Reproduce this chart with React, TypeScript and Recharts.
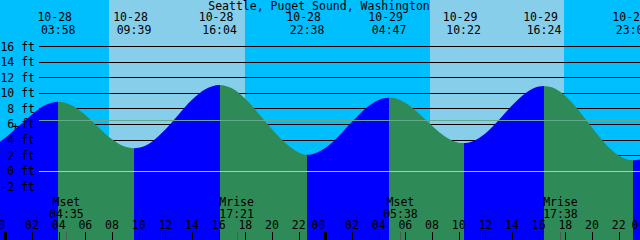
import { Area, ComposedChart, ReferenceArea, ReferenceLine, XAxis, YAxis } from "recharts";

const FONT = "'DejaVu Sans Mono', monospace";
const FS = 11.5;
const RISE = "#0000ff";
const FALL = "#2e8b57";
const NIGHT = "#00bfff";
const DAY = "#87ceeb";

// hours counted from 10-28 00:00, heights in ft
const tideHours = [
  -0.4, 0, 1, 2, 3, 5, 6, 7, 8, 9, 10, 11, 12, 13, 14, 15, 17, 18, 19, 20, 21, 22, 23, 24,
  25, 26, 27, 28, 29, 30, 31, 32, 33, 34, 35, 36, 37, 38, 39, 40, 41, 42, 43, 44, 45, 46, 47.6,
];
const tideFeet = [
  3.8, 4.3, 5.8, 7.3, 8.5, 8.46, 7.24, 5.62, 4.1, 3.12, 2.99, 3.79, 5.34, 7.29, 9.18, 10.55,
  10.66, 9.31, 7.4, 5.4, 3.6, 2.4, 2.17, 2.96, 4.48, 6.34, 8.04, 9.17, 9.44, 8.8, 7.46, 5.84,
  4.43, 3.66, 3.8, 4.85, 6.56, 8.45, 10.04, 10.9, 10.79, 9.69, 7.82, 5.61, 3.52, 2.01, 1.5,
];

const eventHours = [3.967, 9.65, 16.067, 22.633, 28.783, 34.367, 40.4, 47.083];
const eventFeet = [8.94, 2.93, 11.1, 2.1, 9.46, 3.6, 10.98, 1.4];
const eventKinds = ["high", "low", "high", "low", "high", "low", "high", "low"];
const eventDates = ["10-28", "10-28", "10-28", "10-28", "10-29", "10-29", "10-29", "10-29"];
const eventTimes = ["03:58", "09:39", "16:04", "22:38", "04:47", "10:22", "16:24", "23:05"];

const moonHours = [4.583, 17.35, 29.633, 41.633];
const moonNames = ["Mset", "Mrise", "Mset", "Mrise"];
const moonTimes = ["04:35", "17:21", "05:38", "17:38"];

const sunriseHours = [7.775, 31.85];
const sunsetHours = [17.975, 41.9];

const hourTicks = [0, 2, 4, 6, 8, 10, 12, 14, 16, 18, 20, 22, 24, 26, 28, 30, 32, 34, 36, 38, 40, 42, 44, 46, 48];
const footTicks = [-2, 0, 2, 4, 6, 8, 10, 12, 14, 16];
const gridFeet = [2, 4, 6, 8, 10, 12, 14, 16];
const datumFeet = 0;
const mslFeet = 6.55;

const xDomain = [-0.4, 47.6];
const yDomain = [-8.9, 22.06];
const gridStartHour = 2.52;

const points = [
  ...tideHours.map((t, i) => ({ t, ft: tideFeet[i] })),
  ...eventHours.map((t, i) => ({ t, ft: eventFeet[i] })),
].sort((a, b) => a.t - b.t);

const tMin = points[0].t;
const tMax = points[points.length - 1].t;
const frac = (t: number) => (t - tMin) / (tMax - tMin);

const stops: { o: number; c: string }[] = [];
let from = 0;
eventHours.forEach((t, i) => {
  const c = eventKinds[i] === "high" ? RISE : FALL;
  stops.push({ o: from, c }, { o: frac(t), c });
  from = frac(t);
});
const tailColor = eventKinds[eventKinds.length - 1] === "high" ? FALL : RISE;
stops.push({ o: from, c: tailColor }, { o: 1, c: tailColor });

const txt = { fontFamily: FONT, fontSize: FS, fill: "#000" };

function HourTick({ x, payload }: any) {
  const hh = ((payload.value % 24) + 24) % 24;
  const midnight = hh === 0;
  const px = Math.round(x) + 0.5;
  return (
    <g>
      <line x1={px} x2={px} y1={232} y2={240} stroke="#000" strokeWidth={midnight ? 3 : 1} />
      <text x={x} y={229} textAnchor={midnight ? "end" : "middle"} {...txt}>
        {String(hh).padStart(2, "0")}
      </text>
    </g>
  );
}

function EventTick({ x, payload }: any) {
  const i = eventHours.indexOf(payload.value);
  if (i < 0) return <g />;
  return (
    <g>
      <text x={x - 3.5} y={21} textAnchor="middle" {...txt}>
        {eventDates[i]}
      </text>
      <text x={x} y={33.5} textAnchor="middle" {...txt}>
        {eventTimes[i]}
      </text>
    </g>
  );
}

function MoonTick({ x, payload }: any) {
  const i = moonHours.indexOf(payload.value);
  if (i < 0) return <g />;
  const px = Math.round(x) + 0.5;
  return (
    <g>
      <line x1={px} x2={px} y1={232} y2={240} stroke="#505a50" strokeWidth={1} />
      <text x={x} y={206} textAnchor="middle" {...txt}>
        {moonNames[i]}
      </text>
      <text x={x} y={217.5} textAnchor="middle" {...txt}>
        {moonTimes[i]}
      </text>
    </g>
  );
}

function FootTick({ y, payload }: any) {
  return (
    <text x={35} y={y + 4} textAnchor="end" {...txt}>
      {`${payload.value} ft`}
    </text>
  );
}

export default function App() {
  return (
    <div style={{ position: "absolute", left: 0, top: 0, width: 640, height: 240, background: NIGHT }}>
      <ComposedChart width={640} height={240} data={points} margin={{ top: 0, right: 0, bottom: 0, left: 0 }}>
        <defs>
          <linearGradient id="tideFill" x1="0" y1="0" x2="1" y2="0">
            {stops.map((s, i) => (
              <stop key={i} offset={s.o} stopColor={s.c} />
            ))}
          </linearGradient>
        </defs>
        {sunriseHours.map((t, i) => (
          <ReferenceArea
            key={`day${i}`}
            xAxisId="x"
            yAxisId="y"
            x1={t}
            x2={sunsetHours[i]}
            fill={DAY}
            fillOpacity={1}
            stroke="none"
            zIndex={-300}
          />
        ))}
        {gridFeet.map((v) => (
          <ReferenceLine
            key={`g${v}`}
            xAxisId="x"
            yAxisId="y"
            segment={[
              { x: gridStartHour, y: v },
              { x: xDomain[1], y: v },
            ]}
            stroke="#000"
            strokeWidth={1}
            shapeRendering="crispEdges"
            zIndex={-200}
          />
        ))}
        <Area
          xAxisId="x"
          yAxisId="y"
          type="monotone"
          dataKey="ft"
          baseValue="dataMin"
          fill="url(#tideFill)"
          fillOpacity={1}
          stroke="none"
          dot={false}
          activeDot={false}
          isAnimationActive={false}
          zIndex={100}
        />
        <ReferenceLine
          xAxisId="x"
          yAxisId="y"
          segment={[
            { x: gridStartHour, y: datumFeet },
            { x: xDomain[1], y: datumFeet },
          ]}
          stroke="#8fd0e8"
          strokeWidth={1}
          shapeRendering="crispEdges"
          zIndex={300}
        />
        <ReferenceLine
          xAxisId="x"
          yAxisId="y"
          segment={[
            { x: gridStartHour, y: mslFeet },
            { x: xDomain[1], y: mslFeet },
          ]}
          stroke="#66a88a"
          strokeWidth={1}
          shapeRendering="crispEdges"
          zIndex={300}
        />
        <XAxis
          xAxisId="x"
          type="number"
          dataKey="t"
          domain={xDomain}
          allowDataOverflow
          ticks={hourTicks}
          interval={0}
          mirror
          height={30}
          axisLine={false}
          tickLine={false}
          tick={(p: any) => <HourTick {...p} />}
        />
        <XAxis
          xAxisId="ev"
          orientation="top"
          type="number"
          dataKey="t"
          domain={xDomain}
          allowDataOverflow
          ticks={eventHours}
          interval={0}
          mirror
          height={30}
          axisLine={false}
          tickLine={false}
          tick={(p: any) => <EventTick {...p} />}
        />
        <XAxis
          xAxisId="moon"
          type="number"
          dataKey="t"
          domain={xDomain}
          allowDataOverflow
          ticks={moonHours}
          interval={0}
          mirror
          height={30}
          axisLine={false}
          tickLine={false}
          tick={(p: any) => <MoonTick {...p} />}
        />
        <YAxis
          yAxisId="y"
          type="number"
          domain={yDomain}
          allowDataOverflow
          ticks={footTicks}
          interval={0}
          mirror
          width={40}
          axisLine={false}
          tickLine={false}
          tick={(p: any) => <FootTick {...p} />}
        />
      </ComposedChart>
      <svg width={640} height={240} style={{ position: "absolute", left: 0, top: 0, pointerEvents: "none" }}>
        <text x={319} y={9.5} textAnchor="middle" {...txt}>
          Seattle, Puget Sound, Washington
        </text>
        <text x={15.5} y={131} textAnchor="middle" {...txt}>
          +
        </text>
      </svg>
    </div>
  );
}
